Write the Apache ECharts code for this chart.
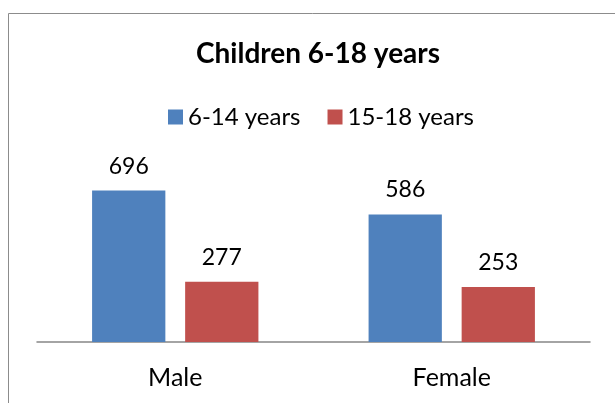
<!DOCTYPE html>
<html><head><meta charset="utf-8">
<script src="https://cdn.jsdelivr.net/npm/echarts@6/dist/echarts.min.js"></script>
<style>html,body{margin:0;padding:0;background:#fff}#c{width:615px;height:403px}</style>
</head><body><div id="c"></div>
<script>
const categories = ['Male', 'Female'];
const seriesNames = ['6-14 years', '15-18 years'];
const values614 = [696, 586];
const values1518 = [277, 253];
const FONT = 'Lato, Carlito, "Open Sans", sans-serif';
const chart = echarts.init(document.getElementById('c'), null, {renderer: 'canvas'});
chart.setOption({
  animation: false,
  backgroundColor: '#fff',
  graphic: [{type: 'rect', shape: {x: 8.5, y: 13.5, width: 640, height: 420}, style: {fill: 'none', stroke: '#8c8c8c', lineWidth: 1}, silent: true}],
  title: {text: 'Children 6-18 years', left: 191, top: 35, textStyle: {fontFamily: FONT, fontWeight: 'bold', fontSize: 28, color: '#000'}},
  legend: {data: seriesNames, top: 100, left: 163, itemWidth: 15, itemHeight: 15, itemGap: 27, icon: 'rect',
    textStyle: {fontFamily: FONT, fontSize: 24, color: '#000'}},
  grid: {left: 37, right: 25, top: 168, bottom: 61, containLabel: false},
  xAxis: {type: 'category', data: categories, axisLine: {lineStyle: {color: '#868686', width: 1.5}}, axisTick: {show: false},
    axisLabel: {fontFamily: FONT, fontSize: 25, color: '#000', margin: 23}},
  yAxis: {type: 'value', min: 0, max: 800, interval: 100, show: false, splitLine: {show: false}},
  series: [
    {name: seriesNames[0], type: 'bar', data: values614, barWidth: '26.5%', barGap: '27%', itemStyle: {color: '#4F81BD'},
      label: {show: true, position: 'top', distance: 13, fontFamily: FONT, fontSize: 23, color: '#000'}},
    {name: seriesNames[1], type: 'bar', data: values1518, barWidth: '26.5%', barGap: '27%', itemStyle: {color: '#C0504D'},
      label: {show: true, position: 'top', distance: 13, fontFamily: FONT, fontSize: 23, color: '#000'}}
  ]
});
</script></body></html>
